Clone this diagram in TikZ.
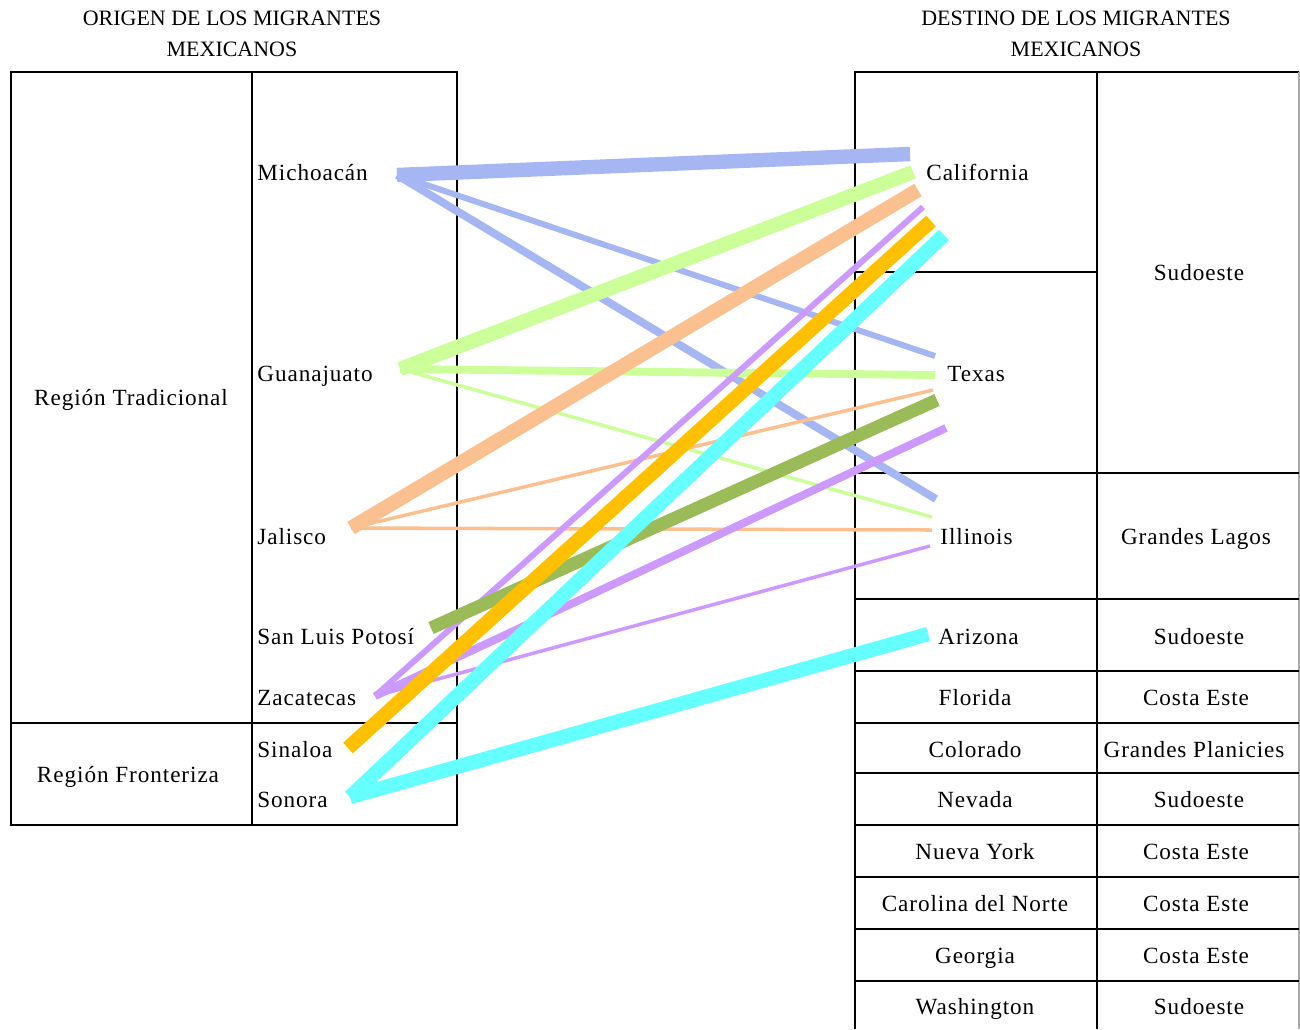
\documentclass[tikz,border=0pt]{standalone}
\usepackage{fontspec}
\setmainfont{Liberation Serif}
\newfontfamily\spacedserif[LetterSpace=4]{Liberation Serif}
\usepackage{tikz}
\tikzstyle{state}=[anchor=west, inner sep=0pt, text height=10pt, text depth=2pt, font=\spacedserif\fontsize{13.2}{15}\selectfont]
\tikzstyle{cell}=[inner sep=0pt, text height=10pt, text depth=2pt, font=\spacedserif\fontsize{13.2}{15}\selectfont]
\tikzstyle{title}=[inner sep=0pt, align=center, font=\fontsize{12.5}{18}\selectfont]
\tikzstyle{grid}=[draw, line width=0.9pt]
\tikzstyle{flow}=[draw, line cap=butt]
\tikzstyle{heavy}=[flow, line width=8.2pt]
\tikzstyle{medium}=[flow, line width=4.5pt]
\tikzstyle{slim}=[flow, line width=3.4pt]
\tikzstyle{hair}=[flow, line width=2pt]
\definecolor{michblue}{RGB}{166,182,242}
\definecolor{guagreen}{RGB}{204,255,153}
\definecolor{jalpeach}{RGB}{250,192,144}
\definecolor{slpolive}{RGB}{155,187,89}
\definecolor{zacpurple}{RGB}{204,153,255}
\definecolor{singold}{RGB}{255,192,0}
\definecolor{soncyan}{RGB}{102,255,255}
\definecolor{edgegray}{RGB}{170,170,170}

\begin{document}
\begin{tikzpicture}[x=0.02cm, y=-0.02cm]
      %
      \path[use as bounding box] (0,0) rectangle (1300,1029);
      %
      % Origen: tabla
      %
      \node[title] (origtitle) at (232,34) {ORIGEN DE LOS MIGRANTES\\MEXICANOS};
      \path[grid] (11,72) rectangle (457,825);
      \path[grid] (252,72) -- (252,825);
      \path[grid] (11,723) -- (457,723);
      \node[cell] (trad) at (131,398) {Región Tradicional};
      \node[cell] (front) at (128,775) {Región Fronteriza};
      \node[state] (mich) at (257,173) {Michoacán};
      \node[state] (gua) at (257,374) {Guanajuato};
      \node[state] (jal) at (257,537) {Jalisco};
      \node[state] (slp) at (257,637) {San Luis Potosí};
      \node[state] (zac) at (257,698) {Zacatecas};
      \node[state] (sin) at (257,750) {Sinaloa};
      \node[state] (son) at (257,800) {Sonora};
      %
      % Destino: tabla
      %
      \node[title] (desttitle) at (1076,34) {DESTINO DE LOS MIGRANTES\\MEXICANOS};
      \path[grid] (855,1029) -- (855,72) -- (1299,72);
      \path[grid, edgegray] (1299,72) -- (1299,1029);
      \path[grid] (1097,72) -- (1097,1029);
      \path[grid] (855,272) -- (1097,272);
      \foreach \y in {473,599,671,723,773,825,877,929,981}
        \path[grid] (855,\y) -- (1299,\y);
      \node[state] (cal) at (926,173) {California};
      \node[state] (tex) at (947,374) {Texas};
      \node[state] (ill) at (940,537) {Illinois};
      \node[state] (ari) at (938,637) {Arizona};
      \node[cell] (flo) at (975,698) {Florida};
      \node[cell] (col) at (975,750) {Colorado};
      \node[cell] (nev) at (975,800) {Nevada};
      \node[cell] (ny) at (975,852) {Nueva York};
      \node[cell] (nc) at (975,904) {Carolina del Norte};
      \node[cell] (geo) at (975,956) {Georgia};
      \node[cell] (was) at (975,1007) {Washington};
      \node[cell] (sw) at (1199,273) {Sudoeste};
      \node[cell] (gl) at (1196,537) {Grandes Lagos};
      \node[cell] (swari) at (1199,637) {Sudoeste};
      \node[cell] (ceflo) at (1196,698) {Costa Este};
      \node[cell] (gp) at (1194,750) {Grandes Planicies};
      \node[cell] (swnev) at (1199,800) {Sudoeste};
      \node[cell] (ceny) at (1196,852) {Costa Este};
      \node[cell] (cenc) at (1196,904) {Costa Este};
      \node[cell] (cegeo) at (1196,956) {Costa Este};
      \node[cell] (swwas) at (1199,1007) {Sudoeste};
      %
      % puntos de salida y llegada
      %
      \coordinate (michout) at (397,175);
      \coordinate (guaout) at (400,369);
      \coordinate (jalout) at (351,528);
      \coordinate (slpout) at (431,628);
      \coordinate (zacout) at (375,696);
      \coordinate (sinout) at (348,748);
      \coordinate (sonout) at (350,797);
      \coordinate (calmich) at (910,154);
      \coordinate (calgua) at (913,172);
      \coordinate (caljal) at (918,190);
      \coordinate (calzac) at (923,207);
      \coordinate (calsin) at (931,221);
      \coordinate (calson) at (944,235);
      \coordinate (texmich) at (935,356);
      \coordinate (texgua) at (935,375);
      \coordinate (texjal) at (933,390);
      \coordinate (texslp) at (937,400);
      \coordinate (texzac) at (946,428);
      \coordinate (illmich) at (936,499);
      \coordinate (illgua) at (932,517);
      \coordinate (illjal) at (932,530);
      \coordinate (illzac) at (930,546);
      \coordinate (arison) at (928,634);
      %
      % Michoacán --> California, Texas, Illinois
      %
      \path[heavy, michblue] (michout) -- (calmich);
      \path[slim, michblue] (michout) -- (texmich);
      \path[medium, michblue] (michout) -- (illmich);
      %
      % Guanajuato --> California, Texas, Illinois
      %
      \path[heavy, guagreen] (guaout) -- (calgua);
      \path[medium, guagreen] (guaout) -- (texgua);
      \path[hair, guagreen] (guaout) -- (illgua);
      %
      % Jalisco --> California, Texas, Illinois
      %
      \path[heavy, jalpeach] (jalout) -- (caljal);
      \path[hair, jalpeach] (jalout) -- (texjal);
      \path[hair, jalpeach] (jalout) -- (illjal);
      %
      % Zacatecas --> California, Texas, Illinois
      %
      \path[slim, zacpurple] (zacout) -- (calzac);
      \path[medium, zacpurple] (zacout) -- (texzac);
      \path[hair, zacpurple] (zacout) -- (illzac);
      %
      % San Luis Potosí --> Texas
      %
      \path[heavy, line width=7.4pt, slpolive] (slpout) -- (texslp);
      %
      % Sinaloa --> California
      %
      \path[heavy, singold] (sinout) -- (calsin);
      %
      % Sonora --> California, Arizona
      %
      \path[heavy, soncyan] (sonout) -- (calson);
      \path[heavy, soncyan] (sonout) -- (arison);
      %
    \end{tikzpicture}
\end{document}
